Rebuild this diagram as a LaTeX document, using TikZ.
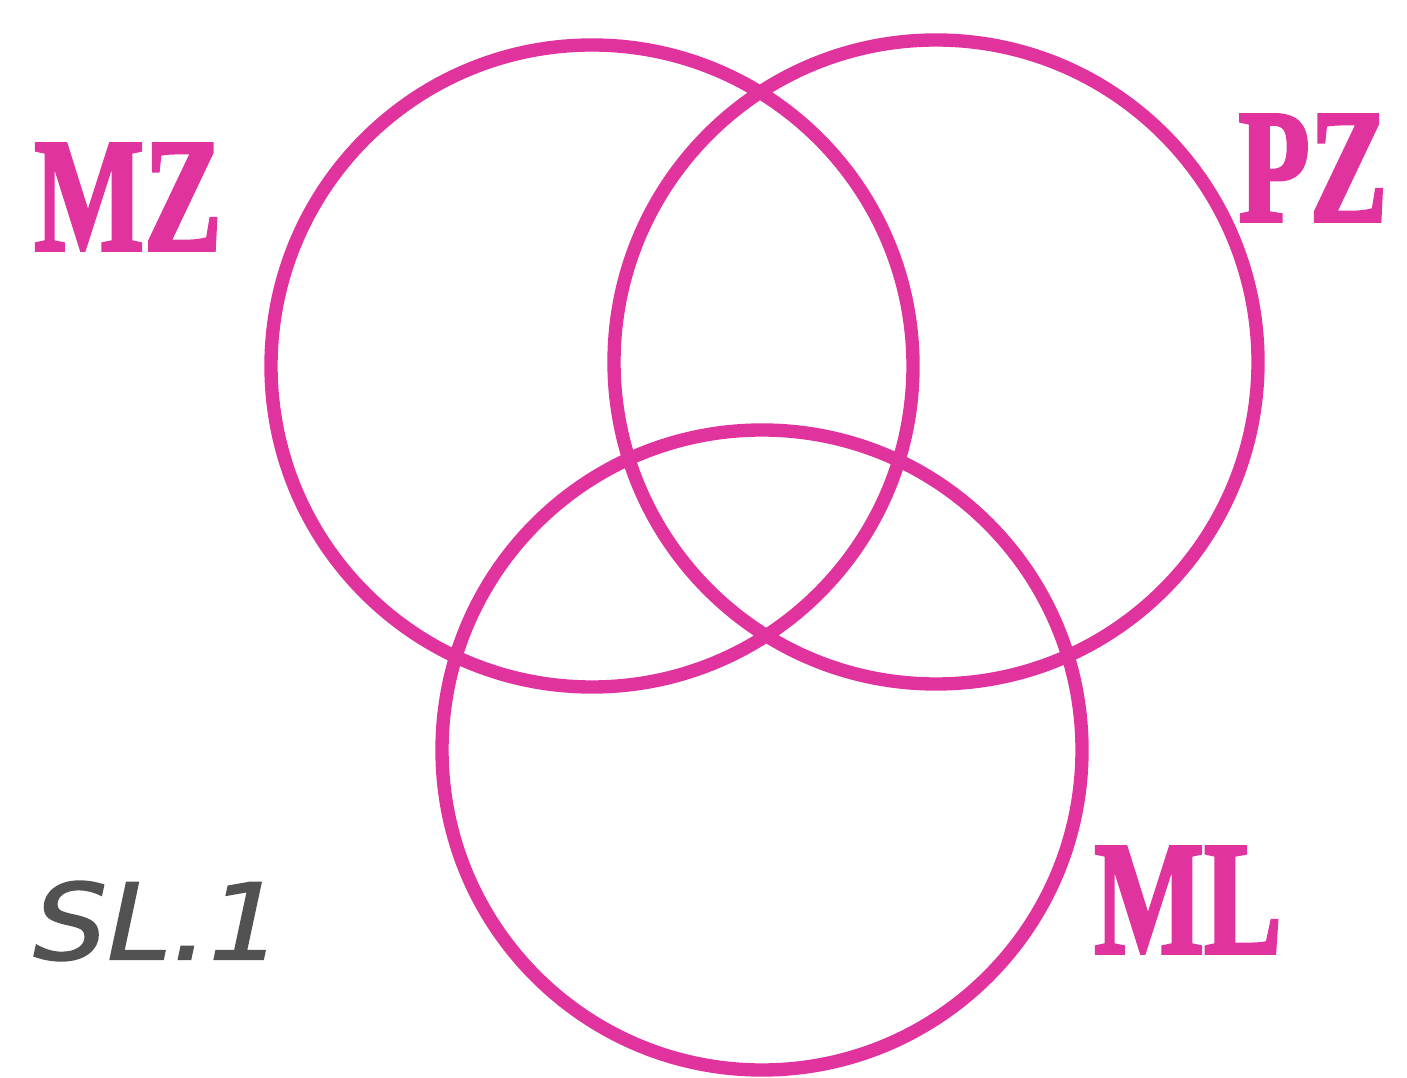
\documentclass[tikz,border=0pt]{standalone}
\usepackage{graphicx}
\usepackage{fontspec}
\newfontfamily\VNnatpis[FakeBold=2.5]{Liberation Serif}
\newfontfamily\VNrukom[FakeBold=1.5]{DejaVu Sans}
\definecolor{VNisticanje}{HTML}{E0339E}
\colorlet{VNroza}{VNisticanje}
\colorlet{VNsiva}{black!68}

\begin{document}
\begin{tikzpicture}[x=1mm,y=1mm,line width=3.8pt]
\useasboundingbox (0,0) rectangle (140.7,107.7);
\draw[VNroza] (59.2,71.1) circle (32.1) (93.6,71.5) circle (32.2) (76.2,32.7) circle (32.0);
\foreach \x/\y/\lab/\ime in {12.8/88.0/MZ/mz,131.3/90.9/PZ/pz,118.8/17.7/ML/ml}{
 \node[VNroza,inner sep=0pt,font=\VNnatpis\bfseries\fontsize{46}{46}\selectfont] (\ime) at (\x,\y) {\scalebox{.72}[1]{\lab}};
}
\node[VNsiva,inner sep=0pt,font=\VNrukom\itshape\fontsize{30}{30}\selectfont] (sl) at (15.8,15.6) {\scalebox{1.1}[1]{SL.1}};
\end{tikzpicture}
\end{document}
